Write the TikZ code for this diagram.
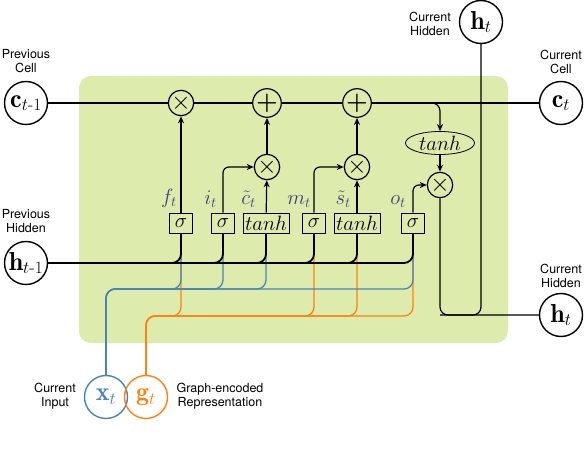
\documentclass[tikz,border=0pt]{standalone}
\usepackage{amsmath}
\usepackage{fontspec}
\newfontfamily\cellfont{TeX Gyre Heros}
\usetikzlibrary{arrows.meta,shapes.geometric}
\definecolor{cellbg}{RGB}{221,235,173}
\definecolor{inblue}{RGB}{72,132,184}
\definecolor{graphorange}{RGB}{255,130,16}
\definecolor{gatetxt}{RGB}{62,62,122}

\begin{document}
\begin{tikzpicture}[
      x=1pt, y=-1pt,
      >={Stealth[length=7pt,width=6pt]},
      every node/.style={font=\fontsize{20}{24}\selectfont},
      state/.style={circle, draw, line width=1.4pt, minimum size=43pt, inner sep=0pt, font=\fontsize{26}{28}\selectfont},
      gatebox/.style={draw, line width=0.8pt, minimum height=20pt, minimum width=23pt, inner sep=1pt},
      op/.style={circle, draw, line width=1.2pt, minimum size=25pt, inner sep=0pt, font=\fontsize{28}{28}\selectfont},
      gatelbl/.style={text=gatetxt, inner sep=1pt, font=\fontsize{21}{24}\selectfont},
      txt/.style={align=center, inner sep=0pt, font=\cellfont\fontsize{12.5}{14}\selectfont},
      flow/.style={line width=1.2pt},
      hline/.style={line width=1.8pt, rounded corners=9pt},
      xline/.style={inblue, line width=1.3pt, rounded corners=9pt},
      gline/.style={graphorange, line width=1.3pt, rounded corners=9pt},
    ]
    \useasboundingbox (0,0) rectangle (584,452);
    \fill[cellbg, rounded corners=12pt] (79,76) rectangle (508,343);

    % states
    \node[state] (cprev) at (26,103) {$\mathbf{c}_{t\text{-}1}$};
    \node[state] (hprev) at (26,263) {$\mathbf{h}_{t\text{-}1}$};
    \node[state] (cnext) at (561,103) {$\mathbf{c}_t$};
    \node[state] (htop) at (481,22) {$\mathbf{h}_t$};
    \node[state] (hnext) at (561,315) {$\mathbf{h}_t$};
    \node[state, inblue] (xt) at (106,397) {$\mathbf{x}_t$};
    \node[state, graphorange] (gt) at (146,397) {$\mathbf{g}_t$};

    \node[txt] (pclbl) at (26,61) {Previous\\Cell};
    \node[txt] (phlbl) at (26,221) {Previous\\Hidden};
    \node[txt] (cclbl) at (561,62) {Current\\Cell};
    \node[txt] (htlbl) at (430,24) {Current\\Hidden};
    \node[txt] (hnlbl) at (561,276) {Current\\Hidden};
    \node[txt] (xtlbl) at (55,396) {Current\\Input};
    \node[txt] (gtlbl) at (220,396) {Graph-encoded\\Representation};

    % gates
    \node[gatebox] (fs) at (181,223) {$\sigma$};
    \node[gatebox] (is) at (223,223) {$\sigma$};
    \node[gatebox, minimum width=46pt] (cs) at (266,223) {$tanh$};
    \node[gatebox] (ms) at (314,223) {$\sigma$};
    \node[gatebox, minimum width=46pt] (ss) at (357,223) {$tanh$};
    \node[gatebox] (os) at (413,223) {$\sigma$};

    \node[gatelbl, anchor=south east] (flbl) at ([xshift=-3pt,yshift=4pt]fs.north) {$f_t$};
    \node[gatelbl, anchor=south east] (ilbl) at ([xshift=-5pt,yshift=4pt]is.north) {$i_t$};
    \node[gatelbl, anchor=south east] (clbl) at ([xshift=-9pt,yshift=4pt]cs.north) {$\tilde{c}_t$};
    \node[gatelbl, anchor=south east] (mlbl) at ([xshift=-2pt,yshift=4pt]ms.north) {$m_t$};
    \node[gatelbl, anchor=south east] (slbl) at ([xshift=-5pt,yshift=4pt]ss.north) {$\tilde{s}_t$};
    \node[gatelbl, anchor=south east] (olbl) at ([xshift=-6pt,yshift=4pt]os.north) {$o_t$};

    % operations
    \node[op] (fmul) at (181,103) {$\times$};
    \node[op] (cadd) at (267,103) {$\boldsymbol{+}$};
    \node[op] (sadd) at (357,103) {$\boldsymbol{+}$};
    \node[op] (cmul) at (267,167) {$\times$};
    \node[op] (smul) at (357,167) {$\times$};
    \node[op, minimum size=22pt, font=\fontsize{24}{24}\selectfont] (omul) at (440,185) {$\times$};
    \node[ellipse, draw, line width=0.8pt, minimum width=69pt, minimum height=23pt, inner sep=0pt, font=\fontsize{22}{24}\selectfont] (tanhc) at (440,143) {$tanh$};

    \coordinate (tbr) at (405,103);
    \coordinate (xrow) at (0,289);
    \coordinate (grow) at (0,316);

    % cell path
    \draw[flow] (cprev) -- (fmul) -- (cadd) -- (sadd) -- (cnext);
    \draw[flow, ->, rounded corners=8pt] (tbr) -| (tanhc);
    \draw[flow, ->] (tanhc) -- (omul);
    \draw[flow, ->] (fs) -- (fmul);
    \draw[flow, ->, rounded corners=6pt] (is) |- (cmul);
    \draw[flow, ->] (cs) -- (cmul);
    \draw[flow, ->] (cmul) -- (cadd);
    \draw[flow, ->, rounded corners=6pt] (ms) |- (smul);
    \draw[flow, ->] (ss) -- (smul);
    \draw[flow, ->] (smul) -- (sadd);
    \draw[flow, ->, rounded corners=6pt] (os) |- (omul);

    % output
    \draw[flow, rounded corners=8pt] (omul) |- (hnext);
    \draw[flow, rounded corners=8pt] (htop) -- (htop |- hnext) -- (omul |- hnext);

    % inputs
    \foreach \g in {fs,ms,ss,os}
      \draw[gline] (gt) -- (gt |- grow) -- (\g |- grow) -- (\g);
    \foreach \g in {fs,is,cs,os}
      \draw[xline] (xt) -- (xt |- xrow) -- (\g |- xrow) -- (\g);
    \foreach \g in {fs,is,cs,ms,ss,os}
      \draw[hline] (hprev) -| (\g);
  \end{tikzpicture}
\end{document}
